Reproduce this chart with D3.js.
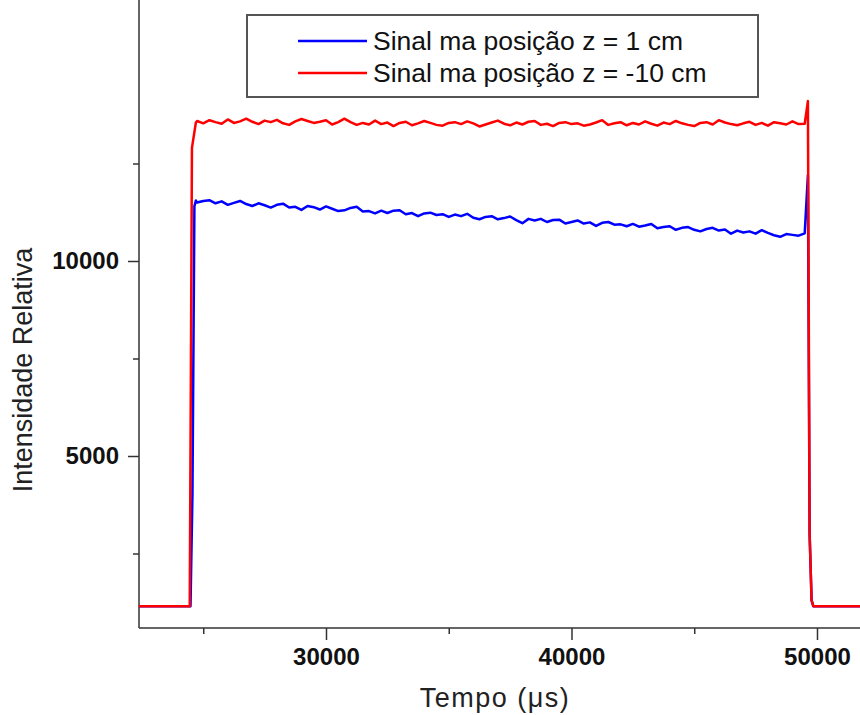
<!DOCTYPE html>
<html>
<head>
<meta charset="utf-8">
<script src="https://cdn.jsdelivr.net/npm/d3@7"></script>
<style>
  body { margin: 0; background: #fff; }
  svg { display: block; font-family: "Liberation Sans", Arial, sans-serif; }
</style>
</head>
<body>
<svg id="chart" width="860" height="715"></svg>
<script>
// series labels
const seriesNames = ["Sinal ma posição z = 1 cm", "Sinal ma posição z = -10 cm"];

// plateau sampled every 250 us starting at 24750 us
const plateauStart = 24750;
const plateauStep = 250;

// blue: z = 1 cm
const blueRise = [[22380, 1150], [24480, 1150], [24560, 4000], [24640, 11400], [24700, 11550]];
const bluePlateau = [
  11500, 11540, 11560, 11480, 11530, 11440, 11490, 11540, 11460, 11410,
  11480, 11430, 11370, 11440, 11470, 11370, 11390, 11310, 11410, 11380,
  11320, 11400, 11340, 11280, 11300, 11360, 11390, 11270, 11280, 11220,
  11290, 11230, 11290, 11300, 11200, 11230, 11150, 11220, 11240, 11180,
  11200, 11130, 11190, 11150, 11210, 11110, 11070, 11130, 11150, 11070,
  11100, 11140, 11050, 10970, 11080, 11040, 11080, 11000, 11050, 11060,
  10960, 11000, 11040, 10960, 10990, 10900, 10980, 11000, 10930, 10940,
  10890, 10950, 10880, 10910, 10950, 10840, 10870, 10890, 10800, 10850,
  10870, 10800, 10760, 10820, 10850, 10780, 10810, 10700, 10780, 10730,
  10760, 10700, 10790, 10720, 10660, 10620, 10690, 10670, 10650, 10710
];
const blueFall = [[49630, 12200], [49700, 3000], [49780, 1300], [49850, 1150], [51760, 1150]];

// red: z = -10 cm
const redRise = [[22380, 1150], [24450, 1150], [24540, 12900], [24700, 13550]];
const redPlateau = [
  13590, 13530, 13610, 13560, 13520, 13630, 13540, 13580, 13650, 13570,
  13510, 13600, 13560, 13620, 13530, 13490, 13580, 13640, 13590, 13540,
  13570, 13610, 13500, 13560, 13650, 13560, 13490, 13540, 13500, 13600,
  13510, 13550, 13460, 13540, 13570, 13480, 13530, 13590, 13540, 13490,
  13470, 13540, 13560, 13510, 13580, 13530, 13450, 13500, 13550, 13600,
  13520, 13480, 13550, 13500, 13570, 13590, 13490, 13520, 13460, 13540,
  13560, 13510, 13530, 13470, 13500, 13550, 13610, 13490, 13530, 13560,
  13480, 13540, 13500, 13580, 13520, 13470, 13550, 13510, 13590, 13530,
  13490, 13460, 13540, 13560, 13500, 13610, 13550, 13510, 13480, 13530,
  13570, 13490, 13540, 13470, 13560, 13530, 13500, 13580, 13510, 13520
];
const redFall = [[49630, 14100], [49700, 3000], [49780, 1300], [49850, 1150], [51760, 1150]];

// ticks
const xMajor = [30000, 40000, 50000];
const xMinor = [25000, 35000, 45000];
const yMajor = [5000, 10000];
const yMinor = [2500, 7500, 12500];

const svg = d3.select("#chart");
const plotLeft = 139, plotRight = 860, plotTop = 0, plotBottom = 628;

const x = d3.scaleLinear().domain([22383, 51752]).range([plotLeft, plotRight]);
const y = d3.scaleLinear().domain([590, 16692]).range([plotBottom, plotTop]);

function build(rise, plateau, fall) {
  const mid = plateau.map((v, i) => [plateauStart + i * plateauStep, v]);
  return rise.concat(mid, fall);
}
const series = [
  { name: seriesNames[0], color: "#0000ff", data: build(blueRise, bluePlateau, blueFall) },
  { name: seriesNames[1], color: "#ff0000", data: build(redRise, redPlateau, redFall) }
];

// axes
const axisColor = "#333";
const gx = svg.append("g").attr("transform", `translate(0,${plotBottom})`);
gx.call(d3.axisBottom(x).tickValues(xMajor).tickFormat(d3.format("d")).tickSize(12).tickPadding(8));
const gxm = svg.append("g").attr("transform", `translate(0,${plotBottom})`);
gxm.call(d3.axisBottom(x).tickValues(xMinor).tickFormat("").tickSize(6));

const gy = svg.append("g").attr("transform", `translate(${plotLeft},0)`);
gy.call(d3.axisLeft(y).tickValues(yMajor).tickFormat(d3.format("d")).tickSize(11).tickPadding(9));
const gym = svg.append("g").attr("transform", `translate(${plotLeft},0)`);
gym.call(d3.axisLeft(y).tickValues(yMinor).tickFormat("").tickSize(6));

[gx, gxm, gy, gym].forEach(g => {
  g.select(".domain").remove();
  g.selectAll("line").attr("stroke", axisColor).attr("stroke-width", 1.5);
  g.selectAll("text")
    .attr("fill", "#111")
    .attr("font-size", 24)
    .attr("font-weight", "bold")
    .attr("font-family", "Liberation Sans, Arial, sans-serif");
});

svg.append("line")
  .attr("x1", plotLeft).attr("x2", plotRight).attr("y1", plotBottom).attr("y2", plotBottom)
  .attr("stroke", axisColor).attr("stroke-width", 1.5);
svg.append("line")
  .attr("x1", plotLeft).attr("x2", plotLeft).attr("y1", plotTop).attr("y2", plotBottom)
  .attr("stroke", axisColor).attr("stroke-width", 1.5);

// lines
const line = d3.line().x(d => x(d[0])).y(d => y(d[1]));
svg.append("g").selectAll("path")
  .data(series)
  .join("path")
  .attr("d", d => line(d.data))
  .attr("fill", "none")
  .attr("stroke", d => d.color)
  .attr("stroke-width", 2.5)
  .attr("stroke-linejoin", "round");

// axis titles
svg.append("text")
  .attr("x", 495).attr("y", 707)
  .attr("text-anchor", "middle")
  .attr("font-size", 27)
  .attr("letter-spacing", 1.5)
  .attr("fill", "#222")
  .text("Tempo (μs)");

svg.append("text")
  .attr("transform", "translate(32,370) rotate(-90)")
  .attr("text-anchor", "middle")
  .attr("font-size", 27)
  .attr("fill", "#222")
  .text("Intensidade Relativa");

// legend
const legend = svg.append("g");
legend.append("rect")
  .attr("x", 247).attr("y", 15).attr("width", 511).attr("height", 82)
  .attr("fill", "#fff").attr("stroke", "#555").attr("stroke-width", 2);
const item = legend.selectAll(".item")
  .data(series)
  .join("g")
  .attr("class", "item")
  .attr("transform", (d, i) => `translate(0,${41 + i * 32})`);
item.append("line")
  .attr("x1", 298).attr("x2", 367)
  .attr("stroke", d => d.color).attr("stroke-width", 2.5);
item.append("text")
  .attr("x", 373).attr("y", 9)
  .attr("font-size", 26.5)
  .attr("fill", "#111")
  .text(d => d.name);
</script>
</body>
</html>
